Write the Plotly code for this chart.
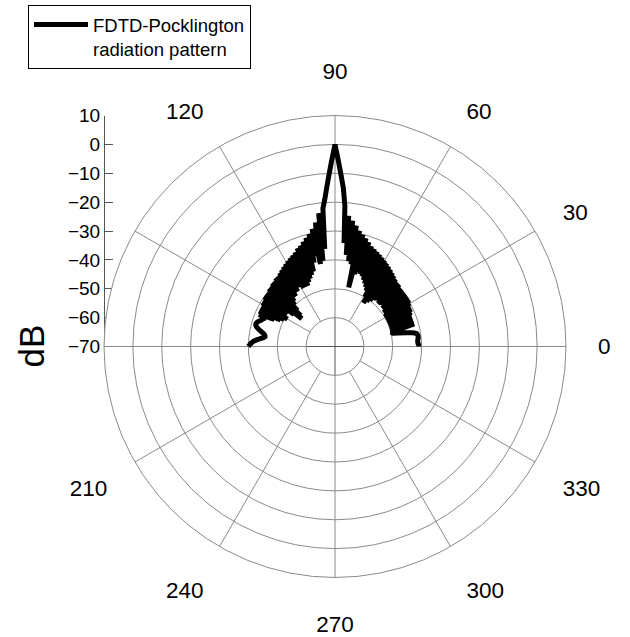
import plotly.graph_objects as go

# ---------------- data ----------------
angles_deg = list(range(0, 181))
pattern_db = [
    -41.0, -41.0, -41.2, -41.3, -41.3, -41.2, -41.0, -41.0, -41.1, -41.4,   # 0-9
    -42.5, -45.0, -47.5, -49.5, -50.0, -47.0, -41.5, -47.0, -41.5, -50.0,   # 10-19
    -41.5, -49.0, -41.5, -50.0, -41.0, -49.5, -40.5, -50.0, -40.5, -49.0,   # 20-29
    -40.0, -50.0, -39.5, -49.0, -39.5, -49.5, -39.5, -48.5, -39.5, -49.0,   # 30-39
    -39.5, -48.0, -39.5, -48.5, -39.0, -49.0, -39.0, -48.0, -38.5, -48.5,   # 40-49
    -38.0, -49.0, -37.5, -50.0, -37.0, -51.0, -36.5, -52.0, -36.0, -50.0,   # 50-59
    -35.5, -48.0, -35.0, -47.0, -34.5, -46.0, -34.0, -45.0, -33.5, -44.0,   # 60-69
    -33.0, -43.5, -32.0, -43.0, -31.0, -44.0, -30.0, -49.0, -29.0, -41.0,   # 70-79
    -27.5, -40.0, -26.0, -38.0, -24.5, -34.0, -21.0, -15.0, -10.5, -5.5,    # 80-89
    0.0, -5.5, -10.5, -15.0, -19.0, -22.0, -36.0, -23.5, -40.0, -26.5,      # 90-99
    -41.0, -28.5, -38.0, -30.0, -40.0, -31.0, -43.0, -32.0, -44.0, -33.0,   # 100-109
    -45.0, -33.5, -46.0, -34.5, -47.0, -35.0, -47.0, -35.5, -47.0, -36.0,   # 110-119
    -46.0, -36.5, -46.0, -37.0, -47.0, -37.5, -47.0, -38.0, -48.0, -38.5,   # 120-129
    -48.0, -38.5, -49.0, -39.0, -50.0, -39.0, -52.0, -39.5, -54.0, -39.5,   # 130-139
    -55.0, -40.0, -52.0, -40.0, -50.0, -40.0, -49.0, -40.5, -50.0, -40.5,   # 140-149
    -51.0, -41.0, -50.0, -41.0, -49.0, -41.0, -47.0, -41.5, -44.0, -43.2,   # 150-159
    -43.0, -42.5, -42.0, -41.7, -41.5, -41.6, -42.0, -42.7, -43.5, -44.3,   # 160-169
    -45.0, -45.4, -45.5, -45.0, -44.0, -43.0, -42.0, -41.3, -40.8, -40.4,   # 170-179
    -40.0,                                                                  # 180
]
series_name = "FDTD-Pocklington<br>radiation pattern"

angular_ticks = [0, 30, 60, 90, 120, 150, 180, 210, 240, 270, 300, 330]
angular_labels = ["0", "30", "60", "90", "120", "", "", "210", "240", "270", "300", "330"]
radial_ticks = [10, 0, -10, -20, -30, -40, -50, -60, -70]
radial_min, radial_max = -70, 10
grid_min = -60

# ---------------- layout geometry ----------------
W, H = 630, 637
cx, cy, R = 335, 346.5, 231
dom_x = [(cx - R) / W, (cx + R) / W]
dom_y = [(H - (cy + R)) / H, (H - (cy - R)) / H]
center_y = (H - cy) / H
hole = (grid_min - radial_min) / (radial_max - radial_min)

FONT = "Liberation Sans, Arial, sans-serif"
GRID = "#8a8a8a"
AXIS = "#555555"

fig = go.Figure()

fig.add_trace(go.Scatterpolar(
    r=pattern_db, theta=angles_deg, mode="lines",
    line=dict(color="black", width=5),
    name=series_name, showlegend=True,
))

# dummy cartesian trace so the left dB scale is drawn
fig.add_trace(go.Scatter(x=[None], y=[None], showlegend=False, hoverinfo="skip"))

fig.update_layout(
    width=W, height=H, autosize=False,
    margin=dict(l=0, r=0, t=0, b=0, pad=0, autoexpand=False),
    paper_bgcolor="white", plot_bgcolor="rgba(0,0,0,0)",
    font=dict(family=FONT, color="black"),
    polar=dict(
        domain=dict(x=dom_x, y=dom_y),
        hole=hole,
        bgcolor="white",
        radialaxis=dict(
            range=[grid_min, radial_max], tickvals=radial_ticks,
            showticklabels=False, ticks="", showline=False,
            gridcolor=GRID, gridwidth=1,
        ),
        angularaxis=dict(
            rotation=0, direction="counterclockwise",
            tickvals=angular_ticks, ticktext=angular_labels,
            ticks="outside", ticklen=27, tickcolor="rgba(0,0,0,0)",
            tickfont=dict(size=22.5, family=FONT, color="black"),
            showline=True, linecolor=GRID, linewidth=1,
            gridcolor=GRID, gridwidth=1,
        ),
    ),
    xaxis=dict(domain=dom_x, range=[-1, 1], visible=False, automargin=False),
    yaxis=dict(
        domain=[center_y, dom_y[1]], range=[radial_min, radial_max],
        anchor="free", position=dom_x[0], side="left", automargin=False,
        tickvals=radial_ticks, ticks="inside", ticklen=8, tickcolor=AXIS,
        showline=True, linecolor=AXIS, linewidth=1,
        showgrid=False, zeroline=False,
        tickfont=dict(size=19, family=FONT, color="black"),
    ),
    legend=dict(
        x=28 / W, y=1 - 5 / H, xanchor="left", yanchor="top",
        bordercolor="black", borderwidth=1, bgcolor="white",
        font=dict(size=18.5, family=FONT, color="black"),
        valign="top", itemwidth=54, tracegroupgap=0,
    ),
    annotations=[dict(
        text="dB", textangle=-90, x=31 / W, y=center_y, xref="paper", yref="paper",
        showarrow=False, font=dict(size=35, family=FONT, color="black"),
        xanchor="center", yanchor="middle",
    )],
    shapes=[
        dict(type="line", xref="paper", yref="paper", x0=dom_x[0], x1=dom_x[1],
             y0=center_y, y1=center_y, line=dict(color=AXIS, width=1), layer="below"),
        dict(type="line", xref="paper", yref="paper", x0=(dom_x[0] + dom_x[1]) / 2,
             x1=(dom_x[0] + dom_x[1]) / 2, y0=dom_y[0], y1=dom_y[1],
             line=dict(color=AXIS, width=1), layer="below"),
    ],
)

fig.write_html("out.html")
